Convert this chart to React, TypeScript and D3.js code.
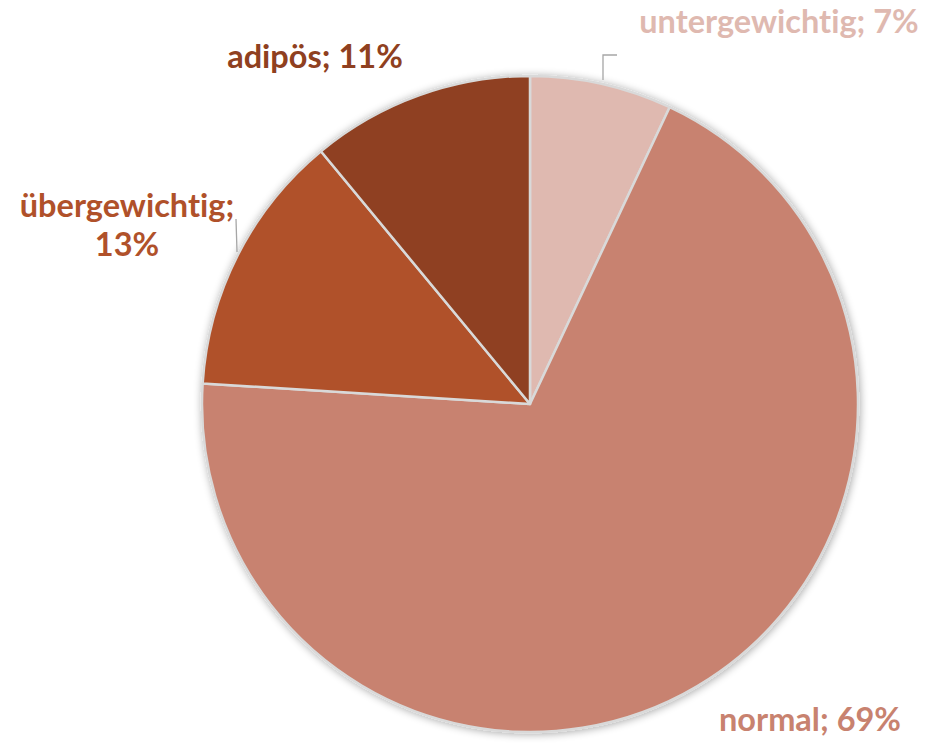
import React from "react";
import * as d3 from "d3";

const categories = ["untergewichtig", "normal", "übergewichtig", "adipös"];
const values = [7, 69, 13, 11];
const colors = ["#DFB9B0", "#C8826F", "#B0512A", "#8F4020"];
const labelLines = [["untergewichtig; 7%"], ["normal; 69%"], ["übergewichtig;", "13%"], ["adipös; 11%"]];
const labelPos: [number, number][] = [[779, 33], [810, 731], [127, 217], [315, 68]];

export default function App() {
  const W = 926, H = 743;
  const cx = 530, cy = 404, r = 328;
  const pie = d3.pie<number>().sort(null).value((d) => d)(values);
  const arc = d3.arc<d3.PieArcDatum<number>>().innerRadius(0).outerRadius(r);
  return (
    <svg width={W} height={H} style={{ position: "absolute", left: 0, top: 0 }}>
      <defs>
        <filter id="sh" x="-20%" y="-20%" width="140%" height="140%">
          <feGaussianBlur in="SourceAlpha" stdDeviation="4" />
          <feOffset dx="1" dy="1" result="b" />
          <feComponentTransfer><feFuncA type="linear" slope="0.35" /></feComponentTransfer>
          <feMerge><feMergeNode /><feMergeNode in="SourceGraphic" /></feMerge>
        </filter>
      </defs>
      <g transform={`translate(${cx},${cy})`} filter="url(#sh)">
        {pie.map((p, i) => (
          <path key={categories[i]} d={arc(p) || ""} fill={colors[i]} stroke="#D9D9D9" strokeWidth={2.5} strokeLinejoin="round" />
        ))}
      </g>
      <polyline points="603,80 603,55 617,55" fill="none" stroke="#A6A6A6" strokeWidth={1.3} />
      <line x1={236} y1={219} x2={237} y2={252} stroke="#A6A6A6" strokeWidth={1.3} />
      {labelLines.map((lines, i) => (
        <text key={i} x={labelPos[i][0]} y={labelPos[i][1]} textAnchor="middle" fill={colors[i]}
          style={{ fontFamily: "Lato, 'Open Sans', sans-serif", fontWeight: 700, fontSize: 32.5, fontVariantLigatures: "none" }}>
          {lines.map((l, j) => (
            <tspan key={j} x={labelPos[i][0]} dy={j === 0 ? 0 : 39}>{l}</tspan>
          ))}
        </text>
      ))}
    </svg>
  );
}
